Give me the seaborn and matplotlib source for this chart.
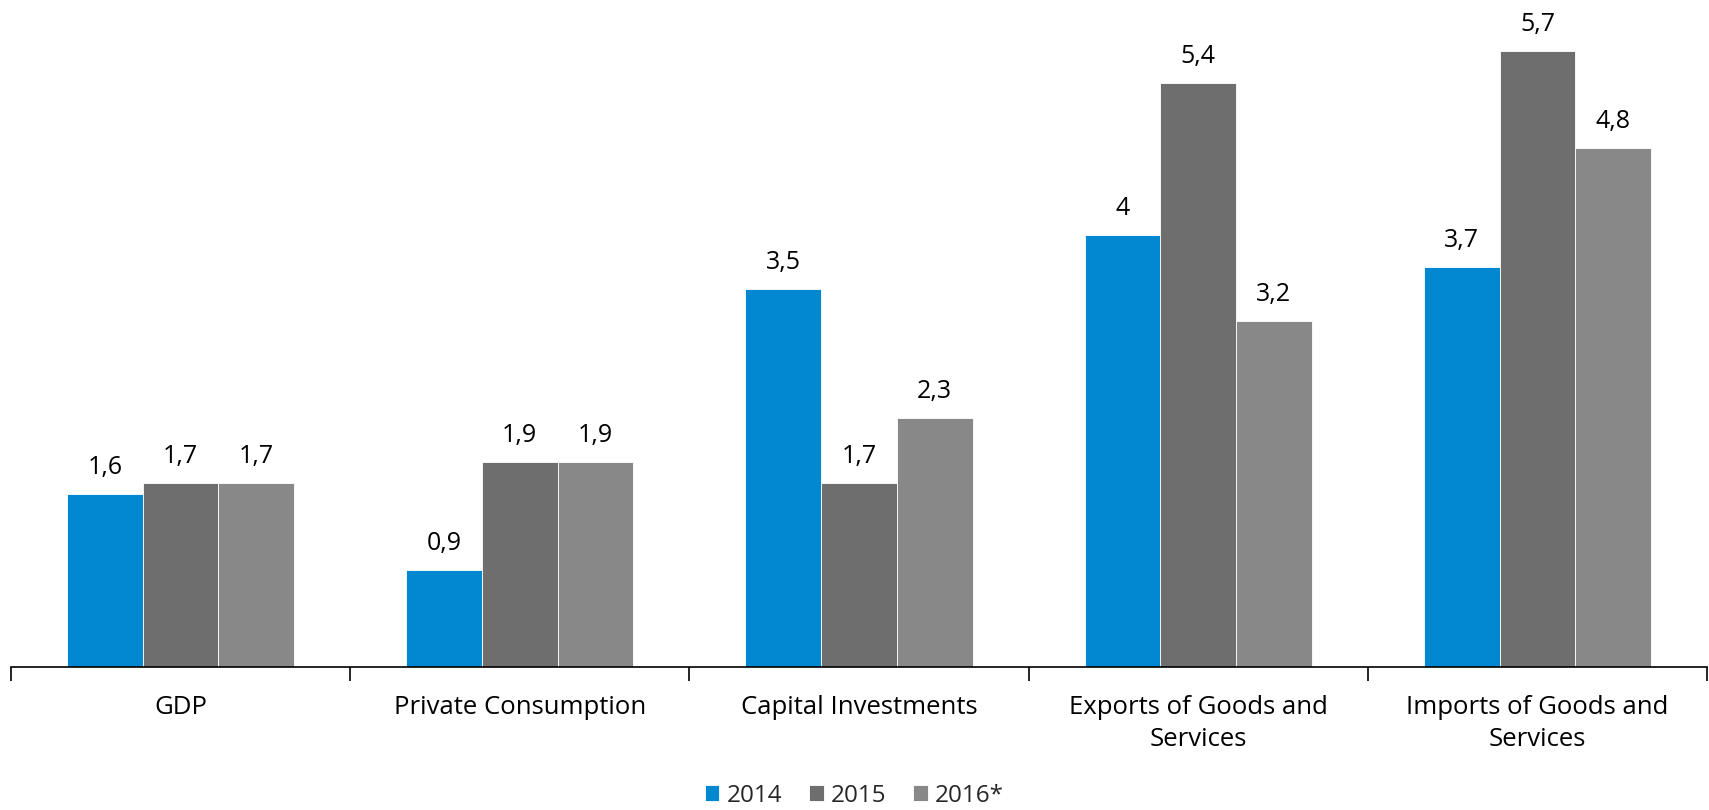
import matplotlib
matplotlib.use("Agg")
import matplotlib.pyplot as plt
import seaborn as sns
import pandas as pd

categories = ["GDP", "Private Consumption", "Capital Investments",
              "Exports of Goods and\nServices", "Imports of Goods and\nServices"]
years = ["2014", "2015", "2016*"]
values_2014 = [1.6, 0.9, 3.5, 4.0, 3.7]
values_2015 = [1.7, 1.9, 1.7, 5.4, 5.7]
values_2016 = [1.7, 1.9, 2.3, 3.2, 4.8]
colors = ["#0288D1", "#6E6E6E", "#888888"]

df = pd.DataFrame({
    "category": categories * 3,
    "year": [years[0]] * 5 + [years[1]] * 5 + [years[2]] * 5,
    "value": values_2014 + values_2015 + values_2016,
})

sns.set_theme(style="white")
plt.rcParams["font.family"] = ["Open Sans", "DejaVu Sans"]

fig = plt.figure(figsize=(17.09, 8.10), dpi=100)
ax = fig.add_axes([11 / 1709, (810 - 667) / 810, 1696 / 1709, 667 / 810])

sns.barplot(data=df, x="category", y="value", hue="year", palette=colors,
            width=0.67, saturation=1, ax=ax, edgecolor="white", linewidth=0.6)

def fmt(v):
    s = f"{v:.1f}"
    if s.endswith(".0"):
        s = s[:-2]
    return s.replace(".", ",")

for cont in ax.containers:
    ax.bar_label(cont, labels=[fmt(b.get_height()) for b in cont],
                 padding=10, fontsize=18, color="#000000")

ax.set_xlim(-0.5, 4.5)
ax.set_ylim(0, 6.17)
ax.set_xlabel("")
ax.set_ylabel("")
ax.set_yticks([])
for s in ["top", "right", "left"]:
    ax.spines[s].set_visible(False)
ax.spines["bottom"].set_color("#000000")
ax.spines["bottom"].set_linewidth(1.2)

ax.set_xticks([i + 0.5 for i in range(-1, 5)], minor=True)
ax.tick_params(axis="x", which="minor", length=10, width=1.2, color="#000000",
               bottom=True)
ax.tick_params(axis="x", which="major", length=0, pad=20, labelsize=18.5,
               labelcolor="#000000")
for lbl in ax.get_xticklabels():
    lbl.set_linespacing(1.4)

ax.legend(title=None, loc="lower center", ncol=3, frameon=False, fontsize=17.5,
          handlelength=0.6, handleheight=0.6, handletextpad=0.3,
          columnspacing=1.1, borderaxespad=0, borderpad=0.1)
leg = ax.get_legend()
leg.set_bbox_to_anchor((0.5, 0.0), transform=fig.transFigure)

fig.savefig("out.png", dpi=100)
